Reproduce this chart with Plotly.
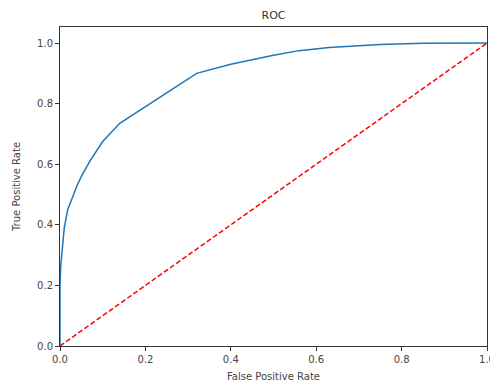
import plotly.graph_objects as go

fpr = [0, 0, 0.002, 0.005, 0.01, 0.018, 0.026, 0.04, 0.05, 0.07, 0.1, 0.14, 0.32, 0.4, 0.5, 0.56, 0.63, 0.75, 0.85, 1.0]
tpr = [0, 0.2, 0.27, 0.32, 0.39, 0.45, 0.48, 0.53, 0.56, 0.61, 0.675, 0.735, 0.90, 0.93, 0.96, 0.975, 0.985, 0.995, 0.999, 1.0]
diag_x = [0, 1]
diag_y = [0, 1]
tick_vals = [0.0, 0.2, 0.4, 0.6, 0.8, 1.0]
tick_text = ["0.0", "0.2", "0.4", "0.6", "0.8", "1.0"]

fig = go.Figure()
fig.add_trace(go.Scatter(x=fpr, y=tpr, mode="lines",
                         line=dict(color="#1f77b4", width=1.5), cliponaxis=False))
fig.add_trace(go.Scatter(x=diag_x, y=diag_y, mode="lines",
                         line=dict(color="red", width=1.5, dash="5px,2.5px"), cliponaxis=False))

axis_common = dict(showgrid=False, zeroline=False, showline=True, linecolor="#333333",
                   linewidth=1, mirror=True, ticks="outside", ticklen=4, tickwidth=1,
                   tickcolor="#333333", tickvals=tick_vals, ticktext=tick_text, automargin=False,
                   tickfont=dict(family="DejaVu Sans", size=10, color="#444444"))

# page has an 8px body margin, so the figure is offset by (8, 8)
W, H = 490, 377
fig.update_layout(
    width=W, height=H,
    margin=dict(l=52, r=11, t=19, b=39),
    paper_bgcolor="white", plot_bgcolor="white",
    showlegend=False,
    title=dict(text="ROC", x=(52 + 479) / 2 / W, xanchor="center", y=1 - 7 / H, yanchor="middle",
               font=dict(family="DejaVu Sans", size=11, color="#333333")),
    xaxis=dict(range=[0, 1], title=dict(text="False Positive Rate", standoff=8,
               font=dict(family="DejaVu Sans", size=10, color="#444444")), **axis_common),
    yaxis=dict(range=[0, 1.053], title=dict(text="True Positive Rate", standoff=14,
               font=dict(family="DejaVu Sans", size=10, color="#444444")), **axis_common),
)

fig.write_html("out.html")
